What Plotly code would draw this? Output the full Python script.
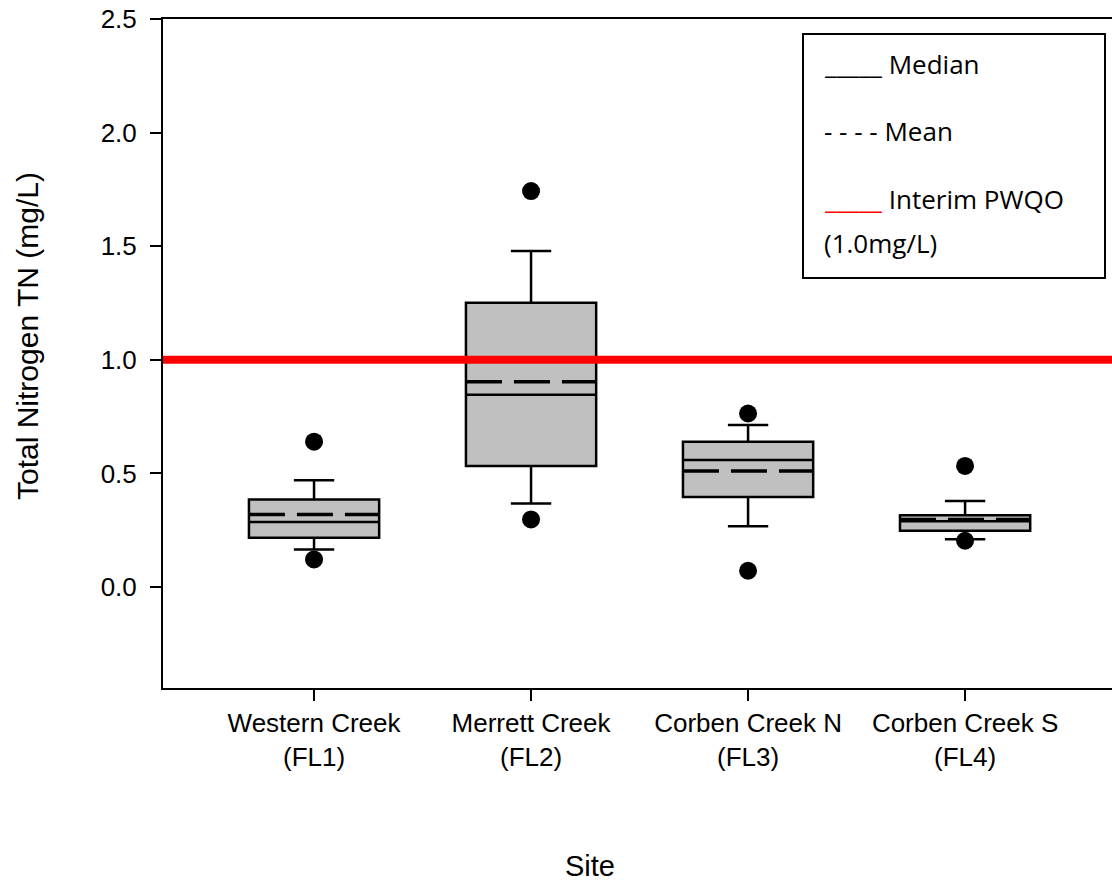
import plotly.graph_objects as go

# ---- data ----
sites = ["Western Creek<br>(FL1)", "Merrett Creek<br>(FL2)", "Corben Creek N<br>(FL3)", "Corben Creek S<br>(FL4)"]
q1 = [0.217, 0.533, 0.397, 0.248]
median = [0.287, 0.846, 0.559, 0.290]
q3 = [0.386, 1.251, 0.640, 0.316]
lower_whisker = [0.166, 0.368, 0.268, 0.211]
upper_whisker = [0.470, 1.479, 0.713, 0.379]
mean = [0.320, 0.904, 0.511, 0.298]
outliers_low = [0.122, 0.298, 0.072, 0.204]
outliers_high = [0.640, 1.743, 0.764, 0.533]
pwqo = 1.0
y_ticks = [0.0, 0.5, 1.0, 1.5, 2.0, 2.5]

# plot-area geometry in pixels (for placing text)
PX0, PX1, PY0, PY1 = 163, 1112, 19, 688
def px_x(x):
    return (x - PX0) / (PX1 - PX0)
def px_y(y):
    return (PY1 - y) / (PY1 - PY0)

BOX_W = 0.6
fig = go.Figure()
for i in range(len(sites)):
    fig.add_trace(go.Box(
        x=[i], q1=[q1[i]], median=[median[i]], q3=[q3[i]],
        lowerfence=[lower_whisker[i]], upperfence=[upper_whisker[i]],
        boxpoints=False, width=BOX_W, whiskerwidth=0.31,
        fillcolor="#c0c0c0", line=dict(color="black", width=2.5),
        showlegend=False, hoverinfo="skip"))
    fig.add_trace(go.Scatter(
        x=[i - BOX_W / 2, i + BOX_W / 2], y=[mean[i], mean[i]], mode="lines",
        line=dict(color="black", width=3.5, dash="36px,12px"),
        showlegend=False, hoverinfo="skip"))

xs = list(range(len(sites)))
fig.add_trace(go.Scatter(x=xs + xs, y=outliers_low + outliers_high, mode="markers",
                         marker=dict(color="black", size=18), showlegend=False))

fig.add_shape(type="line", xref="paper", x0=0, x1=1, yref="y", y0=pwqo, y1=pwqo,
              line=dict(color="#ff0000", width=8), layer="above")

# legend box
fig.add_shape(type="rect", xref="paper", yref="paper",
              x0=px_x(803), x1=px_x(1105), y0=px_y(278), y1=px_y(34),
              line=dict(color="black", width=2), fillcolor="white", layer="above")
leg_font = dict(family="Open Sans", size=26, color="black")
for txt, yc in [("_____ Median", 64), ("- - - - Mean", 131),
                ("<span style='color:#ff0000'>_____</span> Interim PWQO", 199),
                ("(1.0mg/L)", 243)]:
    fig.add_annotation(text=txt, xref="paper", yref="paper", x=px_x(822), y=px_y(yc),
                       xanchor="left", yanchor="middle", showarrow=False, font=leg_font)

# axis titles
fig.add_annotation(text="Total Nitrogen TN (mg/L)", xref="paper", yref="paper",
                   x=px_x(27), y=px_y(336), textangle=-90, showarrow=False,
                   xanchor="center", yanchor="middle",
                   font=dict(family="Liberation Sans", size=30, color="black"))
fig.add_annotation(text="Site", xref="paper", yref="paper",
                   x=px_x(590), y=px_y(866), showarrow=False,
                   xanchor="center", yanchor="middle",
                   font=dict(family="Liberation Sans", size=29, color="black"))

fig.update_layout(
    width=1112, height=884,
    margin=dict(l=PX0, r=0, t=PY0, b=884 - PY1),
    plot_bgcolor="white", paper_bgcolor="white",
    font=dict(family="Liberation Sans", size=26, color="black"),
    xaxis=dict(range=[-0.696, 3.677], tickvals=xs, ticktext=sites,
               showline=True, linecolor="black", linewidth=2, mirror=True,
               ticks="outside", ticklen=11, tickwidth=2, tickcolor="black",
               showgrid=False, zeroline=False),
    yaxis=dict(range=[-0.444, 2.5], tickvals=y_ticks,
               ticktext=[f"{v:.1f}" for v in y_ticks],
               showline=True, linecolor="black", linewidth=2,
               ticks="outside", ticklen=11, tickwidth=2, tickcolor="black",
               ticklabelstandoff=8, tickfont=dict(size=26),
               showgrid=False, zeroline=False),
)

fig.write_html("out.html")
